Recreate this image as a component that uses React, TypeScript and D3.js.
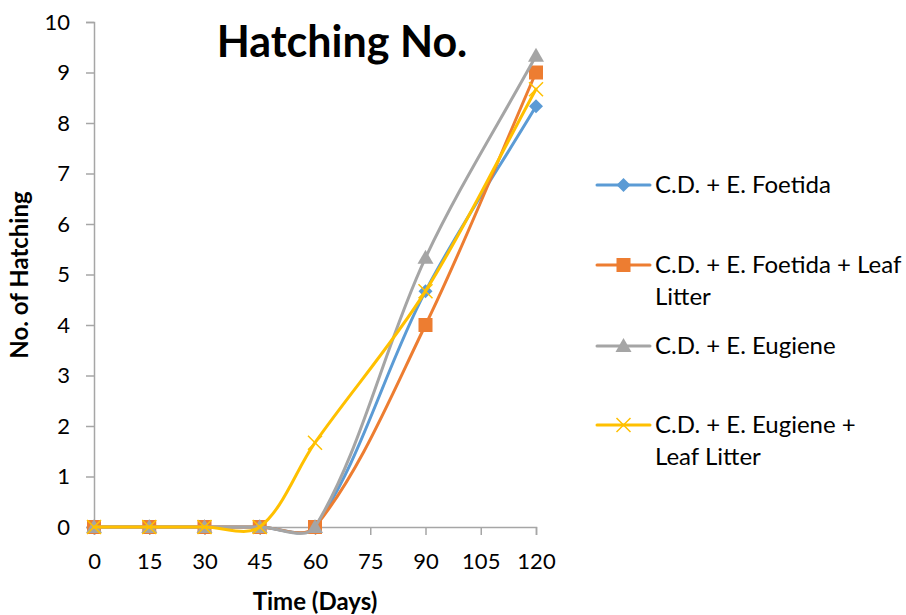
import React, { useEffect, useRef } from "react";
import * as d3 from "d3";

const days = [0, 15, 30, 45, 60, 90, 120];
const xTicks = [0, 15, 30, 45, 60, 75, 90, 105, 120];
const yTicks = [0, 1, 2, 3, 4, 5, 6, 7, 8, 9, 10];

const foetida = [0, 0, 0, 0, 0, 4.67, 8.33];
const foetidaLeaf = [0, 0, 0, 0, 0, 4, 9];
const eugiene = [0, 0, 0, 0, 0, 5.33, 9.33];
const eugieneLeaf = [0, 0, 0, 0, 1.67, 4.67, 8.67];

const seriesNames = [
  ["C.D. + E. Foetida"],
  ["C.D. + E. Foetida + Leaf", "Litter"],
  ["C.D. + E. Eugiene"],
  ["C.D. + E. Eugiene +", "Leaf Litter"],
];
const seriesValues = [foetida, foetidaLeaf, eugiene, eugieneLeaf];
const colors = ["#5B9BD5", "#ED7D31", "#A5A5A5", "#FFC000"];
const markers = ["diamond", "square", "triangle", "cross"];

const FONT = "Lato, 'Open Sans', sans-serif";

// spreadsheet-style smoothing: catmull-rom tangents weighted by segment lengths
function smoothPath(pts: [number, number][]) {
  const p = d3.path();
  const n = pts.length;
  const dist = (a: [number, number], b: [number, number]) => Math.hypot(b[0] - a[0], b[1] - a[1]);
  p.moveTo(pts[0][0], pts[0][1]);
  for (let i = 0; i < n - 1; i++) {
    const p0 = pts[Math.max(i - 1, 0)], p1 = pts[i], p2 = pts[i + 1], p3 = pts[Math.min(i + 2, n - 1)];
    const d01 = dist(p0, p1), d12 = dist(p1, p2), d23 = dist(p2, p3);
    let c1: [number, number], c2: [number, number];
    if (i === 0) c1 = [p1[0] + (p2[0] - p1[0]) / 3, p1[1] + (p2[1] - p1[1]) / 3];
    else {
      const f = d12 / (d01 + d12) / 3;
      c1 = [p1[0] + (p2[0] - p0[0]) * f, p1[1] + (p2[1] - p0[1]) * f];
    }
    if (i === n - 2) c2 = [p2[0] - (p2[0] - p1[0]) / 3, p2[1] - (p2[1] - p1[1]) / 3];
    else {
      const f = d12 / (d12 + d23) / 3;
      c2 = [p2[0] - (p3[0] - p1[0]) * f, p2[1] - (p3[1] - p1[1]) * f];
    }
    p.bezierCurveTo(c1[0], c1[1], c2[0], c2[1], p2[0], p2[1]);
  }
  return p.toString();
}

function drawMarker(g: any, kind: string, x: number, y: number, color: string) {
  if (kind === "diamond") {
    g.append("path").attr("d", `M${x},${y - 7}L${x + 7},${y}L${x},${y + 7}L${x - 7},${y}Z`).attr("fill", color);
  } else if (kind === "square") {
    g.append("rect").attr("x", x - 7).attr("y", y - 7).attr("width", 14).attr("height", 14).attr("fill", color);
  } else if (kind === "triangle") {
    g.append("path").attr("d", `M${x},${y - 8}L${x + 8},${y + 6}L${x - 8},${y + 6}Z`).attr("fill", color);
  } else {
    g.append("path")
      .attr("d", `M${x - 7},${y - 7}L${x + 7},${y + 7}M${x - 7},${y + 7}L${x + 7},${y - 7}`)
      .attr("stroke", color).attr("stroke-width", 1.5).attr("fill", "none");
  }
}

export default function App() {
  const ref = useRef<SVGSVGElement>(null);

  useEffect(() => {
    const svg = d3.select(ref.current);
    svg.selectAll("*").remove();

    const x = d3.scaleLinear().domain([0, 120]).range([94, 536]);
    const y = d3.scaleLinear().domain([0, 10]).range([527, 22]);
    const axisColor = "#A6A6A6";

    // y axis
    const ya = svg.append("g").attr("transform", "translate(94,0)")
      .call(d3.axisLeft(y).tickValues(yTicks).tickSize(8).tickPadding(16));
    ya.select(".domain").attr("stroke", axisColor).attr("stroke-width", 1.5);
    ya.selectAll(".tick line").attr("stroke", axisColor).attr("stroke-width", 1.5);
    ya.selectAll(".tick text").attr("font-family", FONT).attr("font-size", 22).attr("fill", "#000");

    // x axis
    const xa = svg.append("g").attr("transform", "translate(0,527)")
      .call(d3.axisBottom(x).tickValues(xTicks).tickSize(8).tickPadding(18));
    xa.select(".domain").attr("stroke", axisColor).attr("stroke-width", 1.5);
    xa.selectAll(".tick line").attr("stroke", axisColor).attr("stroke-width", 1.5);
    xa.selectAll(".tick text").attr("font-family", FONT).attr("font-size", 22).attr("fill", "#000");

    seriesValues.forEach((vals, s) => {
      const g = svg.append("g");
      const pts = vals.map((v, i) => [x(days[i]), y(v)] as [number, number]);
      g.append("path").attr("d", smoothPath(pts)).attr("fill", "none")
        .attr("stroke", colors[s]).attr("stroke-width", 3).attr("stroke-linecap", "round");
      vals.forEach((v, i) => drawMarker(g, markers[s], x(days[i]), y(v), colors[s]));
    });

    // titles
    svg.append("text").attr("x", 342).attr("y", 57).attr("text-anchor", "middle")
      .attr("font-family", FONT).attr("font-weight", "bold").attr("font-size", 43).text("Hatching No.");
    svg.append("text").attr("x", 315).attr("y", 610).attr("text-anchor", "middle")
      .attr("font-family", FONT).attr("font-weight", "bold").attr("font-size", 24).text("Time (Days)");
    svg.append("text").attr("transform", "translate(28,275) rotate(-90)").attr("text-anchor", "middle")
      .attr("font-family", FONT).attr("font-weight", "bold").attr("font-size", 24).text("No. of Hatching");

    // legend
    const legendY = [185, 265, 346, 425];
    seriesNames.forEach((lines, s) => {
      const g = svg.append("g");
      const ly = legendY[s];
      g.append("line").attr("x1", 597).attr("x2", 650).attr("y1", ly).attr("y2", ly)
        .attr("stroke", colors[s]).attr("stroke-width", 3).attr("stroke-linecap", "round");
      drawMarker(g, markers[s], 623.5, ly, colors[s]);
      lines.forEach((t, k) => {
        g.append("text").attr("x", 655).attr("y", ly + 8 + k * 32)
          .attr("font-family", FONT).attr("font-size", 24).attr("fill", "#000").text(t);
      });
    });
  }, []);

  return <svg ref={ref} width={906} height={615} style={{ position: "absolute", left: 0, top: 0, background: "#fff" }} />;
}
